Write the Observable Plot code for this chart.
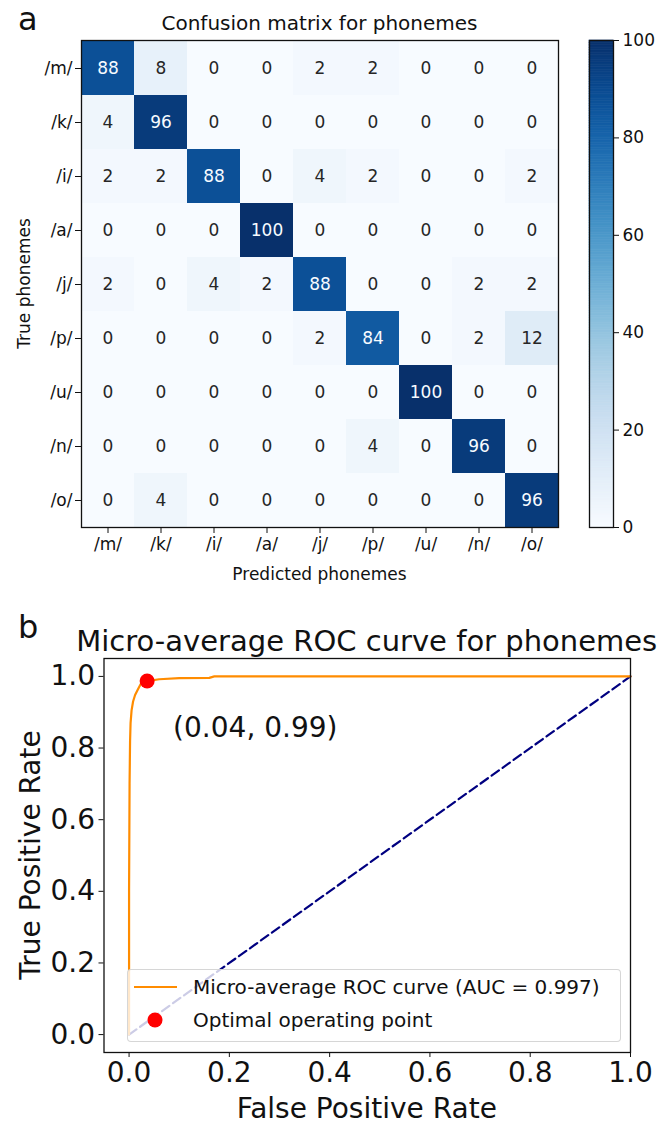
<!DOCTYPE html>
<html>
<head>
<meta charset="utf-8">
<script src="https://cdn.jsdelivr.net/npm/d3@7"></script>
<script src="https://cdn.jsdelivr.net/npm/@observablehq/plot@0.6"></script>
<style>
  html, body { margin: 0; padding: 0; background: #fff; }
  #root { position: relative; width: 665px; height: 1128px; overflow: hidden; font-family: "DejaVu Sans", sans-serif; color: #111; }
  #root svg { overflow: visible; }
</style>
</head>
<body>
<div id="root"></div>
<script>
// ---------------- DATA ----------------
const phonemes = ["/m/", "/k/", "/i/", "/a/", "/j/", "/p/", "/u/", "/n/", "/o/"];
const confusion = [
  [88, 8, 0, 0, 2, 2, 0, 0, 0],
  [4, 96, 0, 0, 0, 0, 0, 0, 0],
  [2, 2, 88, 0, 4, 2, 0, 0, 2],
  [0, 0, 0, 100, 0, 0, 0, 0, 0],
  [2, 0, 4, 2, 88, 0, 0, 2, 2],
  [0, 0, 0, 0, 2, 84, 0, 2, 12],
  [0, 0, 0, 0, 0, 0, 100, 0, 0],
  [0, 0, 0, 0, 0, 4, 0, 96, 0],
  [0, 4, 0, 0, 0, 0, 0, 0, 96]
];
const colorbarTicks = [0, 20, 40, 60, 80, 100];
const colorDomain = [0, 100];

const rocFpr = [0, 0.000, 0.001, 0.002, 0.003, 0.005, 0.008, 0.012, 0.017, 0.023, 0.036, 0.060, 0.100, 0.160, 0.170, 1.0];
const rocTpr = [0, 0.400, 0.700, 0.820, 0.870, 0.905, 0.930, 0.948, 0.962, 0.978, 0.987, 0.992, 0.995, 0.996, 1.000, 1.0];
const chanceFpr = [0, 1];
const chanceTpr = [0, 1];
const optimalPoint = { fpr: 0.036, tpr: 0.987 };
const rocTicks = [0, 0.2, 0.4, 0.6, 0.8, 1.0];
const aucValue = 0.997;

// ---------------- LAYOUT ----------------
const root = document.getElementById("root");
function place(el, left, top) {
  el.style.position = "absolute";
  el.style.left = left + "px";
  el.style.top = top + "px";
  root.appendChild(el);
  return el;
}
const FONT = "DejaVu Sans, sans-serif";
const INK = "#111";

// ---------------- PANEL A : confusion matrix ----------------
const cells = [];
phonemes.forEach((t, i) => phonemes.forEach((p, j) => cells.push({ truth: t, pred: p, value: confusion[i][j] })));

const A = { left: 81, right: 558, top: 40, bottom: 527 };
const plotAW = 580, plotAH = 600;
const plotA = Plot.plot({
  width: plotAW, height: plotAH,
  marginLeft: A.left, marginRight: plotAW - A.right, marginTop: A.top, marginBottom: plotAH - A.bottom,
  x: { type: "band", domain: phonemes, padding: 0, label: null },
  y: { type: "band", domain: phonemes, padding: 0, label: null },
  color: { type: "linear", scheme: "blues", domain: colorDomain },
  style: { fontFamily: FONT, fontSize: "17px", color: INK, background: "transparent", overflow: "visible" },
  marks: [
    Plot.cell(cells, { x: "pred", y: "truth", fill: "value", inset: 0 }),
    Plot.text(cells.filter(d => d.value <= 50), { x: "pred", y: "truth", text: d => String(d.value), fill: "#262626", fontSize: 17 }),
    Plot.text(cells.filter(d => d.value > 50), { x: "pred", y: "truth", text: d => String(d.value), fill: "#f7fbff", fontSize: 17 }),
    Plot.frame({ stroke: INK, strokeWidth: 1.3 }),
    Plot.axisX({ tickSize: 6, tickPadding: 4, label: null, fontSize: 17 }),
    Plot.axisY({ tickSize: 6, tickPadding: 3, label: null, fontSize: 17 })
  ]
});
place(plotA, 0, 0);

// colorbar
const ramp = d3.range(0, 100, 0.5).map(v => ({ v0: v, v1: v + 0.5, mid: v + 0.25 }));
const CB = { left: 589, right: 613 };
const cbW = 76;
const plotCB = Plot.plot({
  width: cbW, height: plotAH,
  marginLeft: 0, marginRight: cbW - (CB.right - CB.left), marginTop: A.top, marginBottom: plotAH - A.bottom,
  x: { domain: [0, 1], axis: null },
  y: { domain: colorDomain, label: null },
  color: { type: "linear", scheme: "blues", domain: colorDomain },
  style: { fontFamily: FONT, fontSize: "17px", color: INK, background: "transparent", overflow: "visible" },
  marks: [
    Plot.rect(ramp, { x1: 0, x2: 1, y1: "v0", y2: "v1", fill: "mid", stroke: "mid", strokeWidth: 0.6, inset: 0 }),
    Plot.frame({ stroke: INK, strokeWidth: 1.3 }),
    Plot.axisY({ anchor: "right", ticks: colorbarTicks, tickSize: 5, tickPadding: 4, label: null, fontSize: 17 })
  ]
});
place(plotCB, CB.left, 0);

// ---------------- PANEL B : ROC ----------------
const B = { left: 103.5, right: 630, top: 658, bottom: 1052 };
const plotBTop = 600, plotBW = 665, plotBH = 528;
const rocData = rocFpr.map((f, i) => ({ fpr: f, tpr: rocTpr[i] }));
const chanceData = chanceFpr.map((f, i) => ({ fpr: f, tpr: chanceTpr[i] }));
const fmt1 = d3.format(".1f");
const plotB = Plot.plot({
  width: plotBW, height: plotBH,
  marginLeft: B.left, marginRight: plotBW - B.right, marginTop: B.top - plotBTop, marginBottom: plotBTop + plotBH - B.bottom,
  x: { domain: [-0.05, 1.0], label: null },
  y: { domain: [-0.05, 1.05], label: null },
  style: { fontFamily: FONT, fontSize: "28px", color: INK, background: "transparent", overflow: "visible" },
  marks: [
    Plot.line(chanceData, { x: "fpr", y: "tpr", stroke: "navy", strokeWidth: 2.2, strokeDasharray: "9,4.5" }),
    Plot.line(rocData, { x: "fpr", y: "tpr", stroke: "darkorange", strokeWidth: 2.2 }),
    Plot.dot([optimalPoint], { x: "fpr", y: "tpr", r: 7.5, fill: "red", stroke: "none" }),
    Plot.text([optimalPoint], {
      x: "fpr", y: "tpr",
      text: d => `(${d.fpr.toFixed(2)}, ${d.tpr.toFixed(2)})`,
      textAnchor: "start", dx: 26, dy: 47, fontSize: 28, fill: INK
    }),
    Plot.frame({ stroke: INK, strokeWidth: 1.3 }),
    Plot.axisX({ ticks: rocTicks, tickFormat: fmt1, tickSize: 5, tickPadding: 5, label: null, fontSize: 28 }),
    Plot.axisY({ ticks: rocTicks, tickFormat: fmt1, tickSize: 5, tickPadding: 4, label: null, fontSize: 28 })
  ]
});
place(plotB, 0, plotBTop);

// legend (panel b)
const legend = document.createElement("div");
legend.style.cssText = "width:494px;height:73px;box-sizing:border-box;border:1px solid rgba(204,204,204,0.8);border-radius:4px;background:rgba(255,255,255,0.8);";
place(legend, 127, 969);
const lg = d3.select(legend).append("svg").attr("width", 494).attr("height", 73)
  .style("position", "absolute").style("left", "-1px").style("top", "-1px");
lg.append("line").attr("x1", 7).attr("x2", 50).attr("y1", 18).attr("y2", 18)
  .attr("stroke", "darkorange").attr("stroke-width", 2.2);
lg.append("circle").attr("cx", 28).attr("cy", 51).attr("r", 7.5).attr("fill", "red");
lg.append("text").attr("x", 66).attr("y", 25).attr("font-family", FONT).attr("font-size", 20).attr("fill", INK)
  .text(`Micro-average ROC curve (AUC = ${aucValue.toFixed(3)})`);
lg.append("text").attr("x", 66).attr("y", 58).attr("font-family", FONT).attr("font-size", 20).attr("fill", INK)
  .text("Optimal operating point");

// ---------------- TEXT OVERLAY ----------------
const overlay = d3.create("svg").attr("width", 665).attr("height", 1128)
  .style("pointer-events", "none");
place(overlay.node(), 0, 0);
const texts = [
  { t: "a", x: 18, y: 30, size: 32, anchor: "start" },
  { t: "Confusion matrix for phonemes", x: (A.left + A.right) / 2, y: 30, size: 20, anchor: "middle" },
  { t: "Predicted phonemes", x: (A.left + A.right) / 2, y: 580, size: 17, anchor: "middle" },
  { t: "True phonemes", x: 30, y: (A.top + A.bottom) / 2, size: 17, anchor: "middle", rotate: true },
  { t: "b", x: 18, y: 638, size: 32, anchor: "start" },
  { t: "Micro-average ROC curve for phonemes", x: (B.left + B.right) / 2, y: 651, size: 29, anchor: "middle" },
  { t: "False Positive Rate", x: (B.left + B.right) / 2, y: 1118, size: 28, anchor: "middle" },
  { t: "True Positive Rate", x: 40, y: (B.top + B.bottom) / 2, size: 28, anchor: "middle", rotate: true }
];
for (const d of texts) {
  const el = overlay.append("text")
    .attr("font-family", FONT).attr("font-size", d.size).attr("fill", INK)
    .attr("text-anchor", d.anchor).text(d.t);
  if (d.rotate) el.attr("transform", `translate(${d.x},${d.y}) rotate(-90)`);
  else el.attr("x", d.x).attr("y", d.y);
}
</script>
</body>
</html>
